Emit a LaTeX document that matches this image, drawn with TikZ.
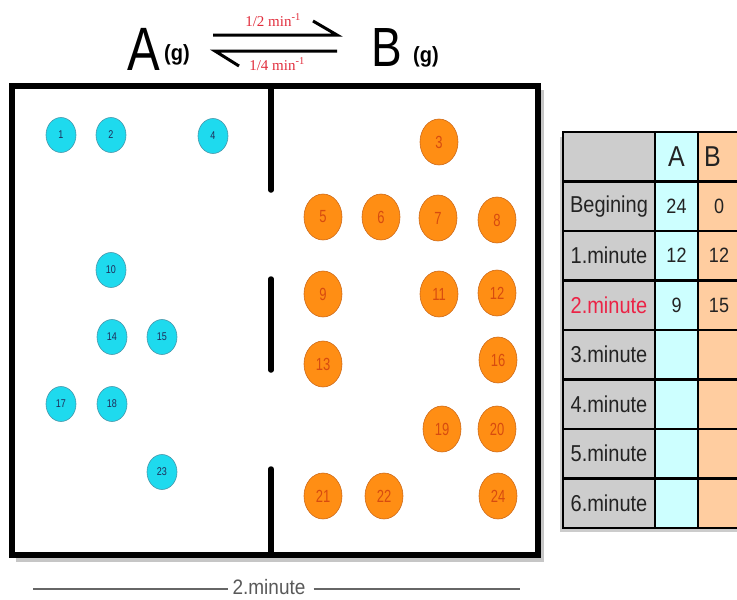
\documentclass[tikz,border=0pt]{standalone}
\usepackage{fontspec}
\setmainfont{Liberation Sans}
\newfontfamily\tmsfont{Liberation Serif}
\usetikzlibrary{shapes.geometric}
\definecolor{cyb}{RGB}{30,218,238}
\definecolor{cybd}{RGB}{70,150,170}
\definecolor{cybt}{RGB}{30,45,90}
\definecolor{orb}{RGB}{255,142,20}
\definecolor{orbd}{RGB}{205,105,25}
\definecolor{orbt}{RGB}{215,75,15}
\definecolor{cellgray}{RGB}{205,205,205}
\definecolor{cellcyan}{RGB}{205,255,255}
\definecolor{cellpeach}{RGB}{255,205,160}
\definecolor{ratered}{RGB}{225,45,60}
\definecolor{celltxt}{RGB}{35,35,35}
\definecolor{redtxt}{RGB}{235,35,70}
\newcommand{\vtxt}[3]{\scalebox{1}[#1]{\fontsize{#2}{#2}\selectfont #3}}
\begin{document}
\begin{tikzpicture}[x=1pt,y=-1pt,
  cball/.style={ellipse, fill=cyb, draw=cybd, line width=0.6pt, minimum width=30pt, minimum height=35pt, inner sep=0pt, text=cybt},
  oball/.style={ellipse, fill=orb, draw=orbd, line width=0.6pt, minimum width=38pt, minimum height=46pt, inner sep=0pt, text=orbt},
  tcell/.style={rectangle, draw=black, line width=2.5pt, inner sep=0pt, minimum height=49.5pt, text=celltxt},
  labcol/.style={tcell, fill=cellgray, minimum width=92pt},
  acol/.style={tcell, fill=cellcyan, minimum width=43pt},
  bcol/.style={tcell, fill=cellpeach, minimum width=45pt},
  wall/.style={line width=6.5pt},
  divider/.style={line width=5.5pt, line cap=round},
  eqarrow/.style={line width=3pt, line join=miter}
]
\useasboundingbox (0,0) rectangle (737,600);
\clip (0,0) rectangle (737,600);

% header reaction
\node[inner sep=0pt] (A) at (143.5,49.5) {\vtxt{1.25}{49}{A}};
\node[inner sep=0pt] (Ag) at (177,55) {\vtxt{1.1}{20}{\bfseries (g)}};
\node[inner sep=0pt] (B) at (387,47.5) {\vtxt{1.2}{46}{B}};
\node[inner sep=0pt] (Bg) at (426,56.5) {\vtxt{1.1}{20}{\bfseries (g)}};
\coordinate (f1) at (213,35);
\coordinate (f2) at (337,35);
\coordinate (f3) at (313,21);
\coordinate (r1) at (337,51);
\coordinate (r2) at (215,51);
\coordinate (r3) at (239,66);
\draw[eqarrow] (f1) -- (f2) -- (f3);
\draw[eqarrow] (r1) -- (r2) -- (r3);
\node[text=ratered, inner sep=0pt] (k1) at (273,20) {\tmsfont\fontsize{15}{15}\selectfont 1/2 min\textsuperscript{-1}};
\node[text=ratered, inner sep=0pt] (k2) at (277,64) {\tmsfont\fontsize{15}{15}\selectfont 1/4 min\textsuperscript{-1}};

% container
\draw[gray!45, line width=4pt] (16,560) -- (542,560) -- (542,90);
\draw[wall] (12,86) rectangle (538,555);
\draw[divider] (271,86) -- (271,190);
\draw[divider] (271,279) -- (271,370);
\draw[divider] (271,469) -- (271,555);

% A molecules
\foreach \n/\x/\y in {1/61/135, 2/111/135, 4/213/136, 10/111/270, 14/112/337, 15/162/337, 17/61/404, 18/112/404, 23/162/472}
  \node[cball] (c\n) at (\x,\y) {\vtxt{1.25}{9}{\n}};

% B molecules
\foreach \n/\x/\y in {3/439/142, 5/323/217, 6/381/217, 7/438/218, 8/497/220, 9/323/294, 11/439/294, 12/497/293, 13/323/364, 16/498/360, 19/442/429, 20/497/429, 21/323/496, 22/384/496, 24/498/496}
  \node[oball] (o\n) at (\x,\y) {\vtxt{1.35}{13}{\n}};

% time axis
\node[text=black!65, inner sep=0pt] (tl) at (269,587) {\vtxt{1.1}{19}{2.minute}};
\coordinate (al) at (33,589);
\coordinate (ar) at (520,589);
\draw[black!60, line width=1.2pt, shorten >=4pt] (al) -- (al -| tl.west);
\draw[black!60, line width=1.2pt, shorten <=8pt] (ar -| tl.east) -- (ar);

% table shadow
\fill[gray!40] (560,137) rectangle (745,532);

% table
\node[labcol] (h0) at (609,156.75) {};
\node[acol] (hA) at (676.5,156.75) {\vtxt{1.15}{25}{A}};
\node[bcol] (hB) at (720.5,156.75) {\hspace*{-16pt}\vtxt{1.15}{25}{B}};
\foreach \i/\lab/\a/\b in {1/Begining/24/0, 2/1.minute/12/12, 3/{\textcolor{redtxt}{2.minute}}/9/15, 4/3.minute//, 5/4.minute//, 6/5.minute//, 7/6.minute//} {
  \node[labcol] (l\i) at (609,156.75+49.5*\i) {\vtxt{1.15}{20}{\lab}};
  \node[acol] (a\i) at (676.5,156.75+49.5*\i) {\vtxt{1.15}{18}{\a}};
  \node[bcol] (b\i) at (720.5,156.75+49.5*\i) {\hspace*{-3pt}\vtxt{1.15}{18}{\b}};
}
\end{tikzpicture}
\end{document}
